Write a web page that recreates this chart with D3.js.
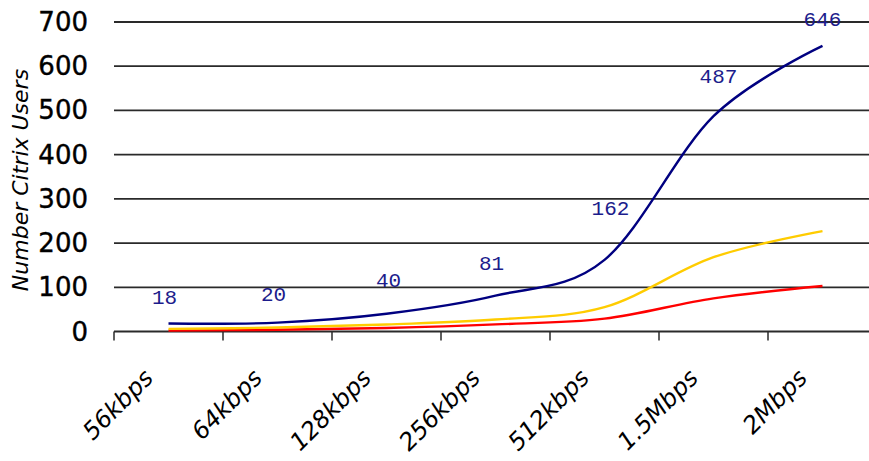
<!DOCTYPE html>
<html>
<head>
<meta charset="utf-8">
<script src="https://cdn.jsdelivr.net/npm/d3@7"></script>
<style>
  html, body { margin: 0; padding: 0; background: #fff; }
  svg { display: block; }
</style>
</head>
<body>
<svg id="chart" width="869" height="461"></svg>
<script>
// ---- data ----
const categories = ["56kbps", "64kbps", "128kbps", "256kbps", "512kbps", "1.5Mbps", "2Mbps"];
const blueValues   = [18, 20, 40, 81, 162, 487, 646];
const yellowValues = [6, 9, 16, 27, 55, 168, 227];
const redValues    = [2, 4, 8, 16, 29, 75, 103];
const yTicks = [0, 100, 200, 300, 400, 500, 600, 700];
const yTitle = "Number Citrix Users";

// label nudges (layout only)
const labelDx = [-4, -4, 2, -4, 6, 5, 0];
const labelDy = [-25, -27, -32, -31, -50, -39, -25];

const svg = d3.select("#chart");
const W = 869, H = 461;
const left = 114, bandW = 109;
const x = d3.scaleBand().domain(categories).range([left, left + bandW * categories.length]).padding(0);
const y = d3.scaleLinear().domain([0, 700]).range([331.5, 22]);

// gridlines
svg.append("g").selectAll("line").data(yTicks.filter(d => d > 0)).join("line")
  .attr("x1", left).attr("x2", W)
  .attr("y1", d => y(d)).attr("y2", d => y(d))
  .attr("stroke", "#2a2a2a").attr("stroke-width", 1.8);

// y tick labels
svg.append("g").selectAll("text").data(yTicks).join("text")
  .attr("x", 88).attr("y", d => y(d))
  .attr("text-anchor", "end").attr("dominant-baseline", "central")
  .attr("font-family", "DejaVu Sans").attr("font-size", 26).attr("fill", "#000")
  .attr("stroke", "#000").attr("stroke-width", 0.4)
  .text(d => d);

// x axis
const xAxis = d3.axisBottom(x).tickSize(9).tickFormat("");
const gx = svg.append("g").attr("transform", `translate(0,${y(0)})`).call(xAxis);
gx.select(".domain").remove();
gx.selectAll(".tick").remove();
gx.append("line").attr("x1", left).attr("x2", W).attr("y1", 0).attr("y2", 0)
  .attr("stroke", "#2a2a2a").attr("stroke-width", 1.8);
const boundaries = categories.map(c => x(c)).concat([x(categories[categories.length-1]) + x.bandwidth()]);
gx.selectAll("line.tk").data(boundaries).join("line").attr("class", "tk")
  .attr("x1", d => d).attr("x2", d => d).attr("y1", 0).attr("y2", 9)
  .attr("stroke", "#2a2a2a").attr("stroke-width", 1.5);

// x labels
svg.append("g").selectAll("text").data(categories).join("text")
  .attr("transform", d => `translate(${x(d) + x.bandwidth()/2 - 14},${y(0) + 48}) rotate(-45)`)
  .attr("text-anchor", "end")
  .attr("font-family", "DejaVu Sans").attr("font-style", "italic").attr("font-size", 24)
  .attr("fill", "#000")
  .text(d => d);

// y title
svg.append("text")
  .attr("transform", `translate(20,180) rotate(-90)`)
  .attr("text-anchor", "middle").attr("dominant-baseline", "central")
  .attr("font-family", "DejaVu Sans").attr("font-style", "italic").attr("font-size", 22)
  .attr("fill", "#000")
  .text(yTitle);

// lines
const cx = (d, i) => x(categories[i]) + x.bandwidth()/2;
const line = d3.line().x(cx).y(d => y(d)).curve(d3.curveCatmullRom.alpha(0));
const series = [
  {vals: redValues, color: "#ff0000"},
  {vals: yellowValues, color: "#ffcc00"},
  {vals: blueValues, color: "#000080"}
];
svg.append("g").selectAll("path").data(series).join("path")
  .attr("d", s => line(s.vals))
  .attr("fill", "none").attr("stroke", s => s.color).attr("stroke-width", 2.4);

// data labels
svg.append("g").selectAll("text").data(blueValues).join("text")
  .attr("x", (d, i) => cx(d, i) + labelDx[i])
  .attr("y", (d, i) => y(d) + labelDy[i])
  .attr("text-anchor", "middle").attr("dominant-baseline", "central")
  .attr("font-family", "Liberation Mono").attr("font-size", 21)
  .attr("fill", "#1c1c8c")
  .text(d => d);
</script>
</body>
</html>
